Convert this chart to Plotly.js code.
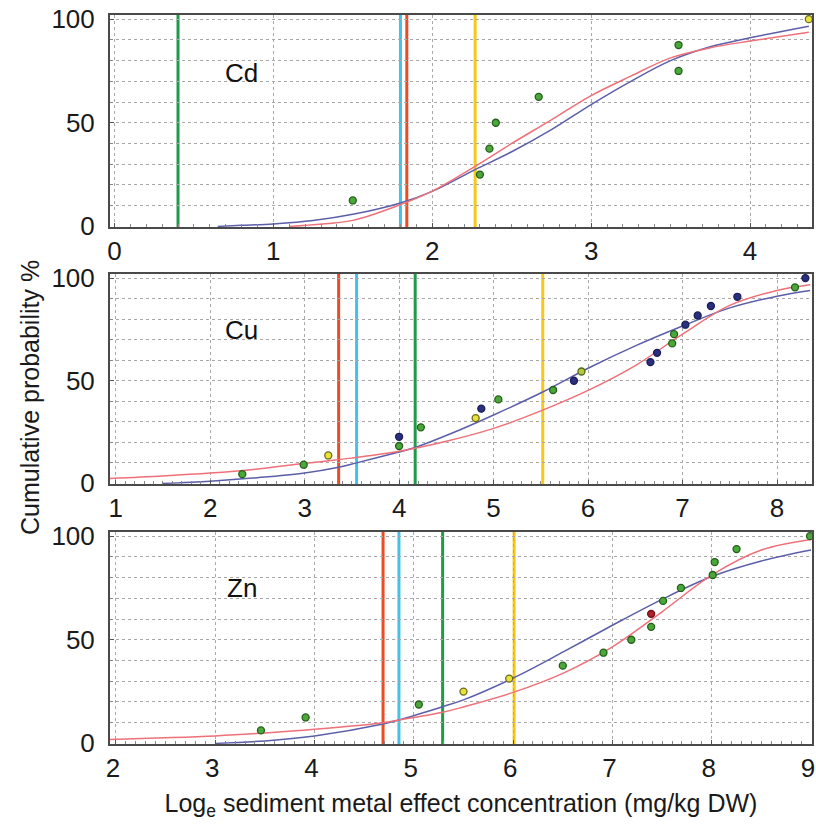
<!DOCTYPE html>
<html><head><meta charset="utf-8">
<script src="https://cdn.plot.ly/plotly-3.0.1.min.js"></script>
<style>html,body{margin:0;padding:0;background:#fff}</style>
</head><body><div id="chart" style="width:816px;height:825px"></div>
<script>
// ---------- Data ----------
// Cd
const cdPtsX = [1.50, 2.30, 2.36, 2.40, 2.67, 3.55, 3.55, 4.37];
const cdPtsY = [12.5, 25.0, 37.5, 50.0, 62.5, 75.0, 87.5, 100.0];
const cdPtsCat = ['g','g','g','g','g','g','g','y'];
const cdBlueX = [0.65, 0.80, 1.00, 1.25, 1.50, 1.80, 2.00, 2.27, 2.50, 2.75, 3.00, 3.25, 3.50, 3.75, 4.00, 4.37];
const cdBlueY = [0.0, 0.5, 1.2, 2.8, 5.8, 11.3, 16.9, 27.4, 36.0, 46.7, 58.8, 70.0, 80.0, 86.7, 91.0, 96.6];
const cdRedX = [1.10, 1.25, 1.50, 1.80, 2.00, 2.27, 2.50, 2.75, 3.00, 3.25, 3.50, 3.75, 4.00, 4.37];
const cdRedY = [0.0, 0.8, 2.9, 10.5, 17.0, 29.0, 40.0, 51.4, 63.1, 72.5, 81.3, 86.2, 89.4, 93.7];
// threshold lines, order: green, cyan, red, yellow
const cdLines = [0.40, 1.80, 1.84, 2.27];
const cdTicks = ['0', '1', '2', '3', '4'];

// Cu
const cuPtsX = [2.34, 2.99, 3.25, 4.00, 4.00, 4.23, 4.81, 4.87, 5.05, 5.63, 5.85, 5.93, 6.66, 6.73, 6.89, 6.91, 7.03, 7.16, 7.30, 7.58, 8.19, 8.30];
const cuPtsY = [4.5, 9.1, 13.6, 18.2, 22.7, 27.3, 31.8, 36.4, 40.9, 45.5, 50.0, 54.5, 59.1, 63.6, 68.2, 72.7, 77.3, 81.8, 86.4, 90.9, 95.5, 100.0];
const cuPtsCat = ['g','g','y','g','b','g','y','b','g','g','b','yg','b','b','g','g','b','b','b','b','g','b'];
const cuBlueX = [1.50, 2.00, 2.50, 3.00, 3.36, 3.55, 4.00, 4.17, 4.64, 5.00, 5.52, 6.00, 6.50, 7.00, 7.50, 8.00, 8.35];
const cuBlueY = [0.0, 1.1, 2.8, 5.1, 7.9, 10.0, 15.3, 17.5, 26.0, 33.3, 44.5, 56.1, 67.0, 76.7, 85.5, 91.2, 94.0];
const cuRedX = [0.94, 1.50, 2.00, 2.50, 3.00, 3.50, 4.00, 4.50, 5.00, 5.52, 6.00, 6.50, 7.00, 7.50, 8.00, 8.35];
const cuRedY = [2.4, 3.6, 5.0, 7.0, 9.8, 12.3, 15.6, 20.5, 26.8, 35.7, 45.3, 57.4, 72.7, 86.7, 94.0, 96.8];
const cuLines = [4.17, 3.55, 3.36, 5.52];
const cuTicks = ['1', '2', '3', '4', '5', '6', '7', '8'];

// Zn
const znPtsX = [3.46, 3.91, 5.05, 5.50, 5.96, 6.50, 6.91, 7.19, 7.39, 7.39, 7.51, 7.69, 8.01, 8.03, 8.25, 8.99];
const znPtsY = [6.25, 12.5, 18.75, 25.0, 31.25, 37.5, 43.75, 50.0, 56.25, 62.5, 68.75, 75.0, 81.25, 87.5, 93.75, 100.0];
const znPtsCat = ['g','g','g','y','y','g','g','g','g','r','g','g','g','g','g','g'];
const znBlueX = [3.00, 3.50, 4.00, 4.69, 4.85, 5.29, 5.50, 6.00, 6.50, 7.00, 7.50, 8.00, 8.50, 9.00];
const znBlueY = [0.0, 1.2, 3.6, 9.4, 11.3, 17.7, 21.0, 31.5, 44.0, 57.0, 69.5, 80.5, 88.0, 93.3];
const znRedX = [1.94, 2.50, 3.00, 3.50, 4.00, 4.69, 4.85, 5.29, 5.50, 6.00, 6.50, 7.00, 7.50, 8.00, 8.50, 9.00];
const znRedY = [1.9, 2.7, 3.6, 5.0, 6.8, 10.0, 11.3, 15.0, 17.6, 24.6, 33.8, 46.6, 63.5, 81.2, 93.3, 98.4];
const znLines = [5.29, 4.85, 4.69, 6.01];
const znTicks = ['2', '3', '4', '5', '6', '7', '8', '9'];

const panelNames = ['Cd', 'Cu', 'Zn'];
const xRanges = [[-0.028, 4.39], [0.94, 8.37], [1.94, 9.01]];
const tickStarts = [0, 1, 2];

// ---------- Styles ----------
const FONT = 'Liberation Sans, Arial, Helvetica, sans-serif';
const blueCol = '#5b5ea8';
const redCol = '#ee7078';
const lineCols = ['#1f9a48', '#45c0ea', '#ee4a25', '#f7c81a'];
const ptFill = {g: '#4aa83a', y: '#e8e23a', b: '#2b2f80', yg: '#b8c640', r: '#b01e28'};
const ptEdge = {g: '#245e18', y: '#6d6a1c', b: '#1a1c55', yg: '#4f6a1c', r: '#6a1016'};
const labelShift = [0, 0, -3];

const panels = [
  {px: cdPtsX, py: cdPtsY, pc: cdPtsCat, bx: cdBlueX, by: cdBlueY, rx: cdRedX, ry: cdRedY, lines: cdLines, ticks: cdTicks},
  {px: cuPtsX, py: cuPtsY, pc: cuPtsCat, bx: cuBlueX, by: cuBlueY, rx: cuRedX, ry: cuRedY, lines: cuLines, ticks: cuTicks},
  {px: znPtsX, py: znPtsY, pc: znPtsCat, bx: znBlueX, by: znBlueY, rx: znRedX, ry: znRedY, lines: znLines, ticks: znTicks}
];

// plot area pixel geometry (top/bottom of each panel)
const H = 825, mt = 15, mb = 81;
const ph = H - mt - mb;
const tops = [15, 274, 532], bots = [227, 484, 744];
const domains = tops.map((t, i) => [(H - mb - bots[i]) / ph, (H - mb - t) / ph]);

const traces = [];
const shapes = [];
const annotations = [];
const layout = {
  width: 816, height: 825,
  margin: {l: 110, r: 4, t: mt, b: mb},
  paper_bgcolor: '#fff', plot_bgcolor: '#fff',
  showlegend: false,
  font: {family: FONT, color: '#1a1a1a', size: 26}
};

panels.forEach((p, i) => {
  const n = i + 1;
  const xa = 'x' + (n === 1 ? '' : n), ya = 'y' + (n === 1 ? '' : n);
  traces.push({x: p.bx, y: p.by, xaxis: xa, yaxis: ya, mode: 'lines', hoverinfo: 'skip',
    line: {color: blueCol, width: 1.5, shape: 'spline', smoothing: 1}});
  traces.push({x: p.rx, y: p.ry, xaxis: xa, yaxis: ya, mode: 'lines', hoverinfo: 'skip',
    line: {color: redCol, width: 1.5, shape: 'spline', smoothing: 1}});
  traces.push({x: p.px, y: p.py, xaxis: xa, yaxis: ya, mode: 'markers',
    marker: {size: 7, color: p.pc.map(c => ptFill[c]), line: {color: p.pc.map(c => ptEdge[c]), width: 1.3}}});
  p.lines.forEach((v, k) => {
    shapes.push({type: 'line', xref: xa, yref: ya + ' domain', x0: v, x1: v, y0: 0, y1: 1,
      layer: 'below', line: {color: lineCols[k], width: 3}});
  });
  annotations.push({text: panelNames[i], xref: xa + ' domain', yref: ya + ' domain', x: 0.188,
    y: [0.726, 0.733, 0.736][i], xanchor: 'center', yanchor: 'middle', showarrow: false,
    font: {size: 26, color: '#111', family: FONT}});
  layout['xaxis' + (n === 1 ? '' : n)] = {
    domain: [0, 1], anchor: ya, range: xRanges[i],
    tickmode: 'array', tickvals: p.ticks.map((t, k) => tickStarts[i] + k), ticktext: p.ticks,
    showgrid: true, gridcolor: '#a8a8a8', griddash: 'dot', gridwidth: 1, zeroline: false,
    showline: true, mirror: true, linecolor: '#4a4a4a', linewidth: 2,
    ticks: 'inside', ticklen: 4, tickcolor: '#555',
    minor: {dtick: 0.1, tick0: 0, ticks: 'inside', ticklen: 3, tickcolor: '#888', showgrid: false},
    ticklabeloverflow: 'allow', ticklabelshift: labelShift[i],
    tickfont: {size: 26, color: '#1a1a1a', family: FONT}
  };
  layout['yaxis' + (n === 1 ? '' : n)] = {
    domain: domains[i], anchor: xa, range: [-0.3, 102], dtick: 50, tick0: 0,
    showgrid: true, gridcolor: '#a8a8a8', griddash: 'dot', gridwidth: 1, zeroline: false,
    showline: true, mirror: true, linecolor: '#4a4a4a', linewidth: 2,
    ticks: 'inside', ticklen: 4, tickcolor: '#555',
    minor: {dtick: 10, ticks: 'inside', ticklen: 3, tickcolor: '#888', showgrid: true, gridcolor: '#a8a8a8', griddash: 'dot', gridwidth: 1},
    ticklabelstandoff: 8,
    tickfont: {size: 26, color: '#1a1a1a', family: FONT}
  };
});

layout.xaxis3.title = {text: 'Log<sub>e</sub> sediment metal effect concentration (mg/kg DW)',
  font: {size: 25, color: '#1a1a1a', family: FONT}, standoff: 12};
annotations.push({text: 'Cumulative probability %', xref: 'paper', yref: 'paper',
  x: (30 - 110) / 702, y: (H - mb - 398) / ph, xanchor: 'center', yanchor: 'middle',
  textangle: -90, showarrow: false, font: {size: 25, color: '#1a1a1a', family: FONT}});
layout.shapes = shapes;
layout.annotations = annotations;

Plotly.newPlot('chart', traces, layout, {staticPlot: true, displayModeBar: false});
</script></body></html>
